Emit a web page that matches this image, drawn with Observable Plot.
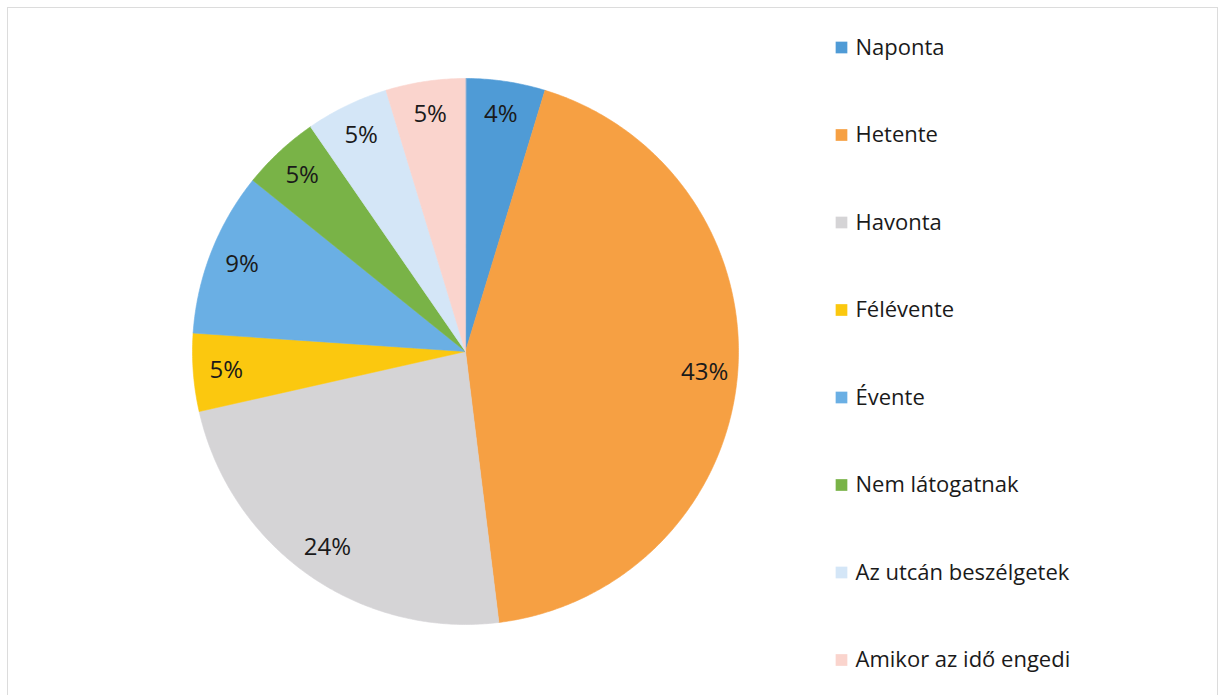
<!DOCTYPE html>
<html>
<head>
<meta charset="utf-8">
<script src="https://cdn.jsdelivr.net/npm/d3@7"></script>
<script src="https://cdn.jsdelivr.net/npm/@observablehq/plot@0.6"></script>
<style>
  html, body { margin: 0; padding: 0; background: #fff; }
  #wrap { position: relative; width: 1223px; height: 695px; overflow: hidden; }
  #frame { position: absolute; left: 7px; top: 7px; width: 1209px; height: 720px; border: 1px solid #dcdcdc; pointer-events: none; }
</style>
</head>
<body>
<div id="wrap"><div id="chart"></div><div id="frame"></div></div>
<script>
const categories = ["Naponta", "Hetente", "Havonta", "Félévente", "Évente", "Nem látogatnak", "Az utcán beszélgetek", "Amikor az idő engedi"];
const values = [4.7, 43.3, 23.4, 4.6, 9.7, 4.6, 4.9, 4.7];
const labels = ["4%", "43%", "24%", "5%", "9%", "5%", "5%", "5%"];
const colors = ["#4f9bd6", "#f6a043", "#d5d4d6", "#fbc80f", "#6aafe4", "#79b347", "#d4e6f7", "#fad4cd"];

const W = 1223, H = 695;
const cx = 465, cy = 351, R = 273, LR = 240;
const font = "'Open Sans', sans-serif";

const arcs = d3.pie().sort(null).value(d => d)(values);

// slice polygons in chart units
const slicePts = [];
arcs.forEach((a, i) => {
  const name = categories[i];
  slicePts.push({name, x: cx, y: cy});
  const n = Math.max(2, Math.ceil((a.endAngle - a.startAngle) / (Math.PI / 360)));
  for (let k = 0; k <= n; k++) {
    const t = a.startAngle + (a.endAngle - a.startAngle) * k / n;
    slicePts.push({name, x: cx + R * Math.sin(t), y: cy - R * Math.cos(t)});
  }
});

const sliceLabels = arcs.map((a, i) => {
  const m = (a.startAngle + a.endAngle) / 2;
  return {name: categories[i], label: labels[i], x: cx + LR * Math.sin(m), y: cy - LR * Math.cos(m)};
});

const legX = 841, legY0 = 47, legStep = 87.5;
const legend = categories.map((c, i) => ({name: c, x: legX, y: legY0 + i * legStep}));

const chart = Plot.plot({
  width: W, height: H,
  margin: 0,
  style: {fontFamily: font, background: "transparent"},
  x: {domain: [0, W], range: [0, W], axis: null},
  y: {domain: [0, H], range: [0, H], axis: null},
  color: {domain: categories, range: colors},
  marks: [
    Plot.line(slicePts, {x: "x", y: "y", z: "name", fill: "name", stroke: "name", strokeWidth: 0.6, curve: "linear-closed"}),
    Plot.text(sliceLabels, {x: "x", y: "y", text: "label", fontSize: 24, fill: "#1a1a1a", fontFamily: font}),
    Plot.dot(legend, {x: "x", y: "y", symbol: "square", r: 6.6, fill: "name", stroke: null}),
    Plot.text(legend, {x: "x", y: "y", text: "name", textAnchor: "start", dx: 14, fontSize: 22, fill: "#1a1a1a", fontFamily: font})
  ]
});
document.getElementById("chart").appendChild(chart);
</script>
</body>
</html>
